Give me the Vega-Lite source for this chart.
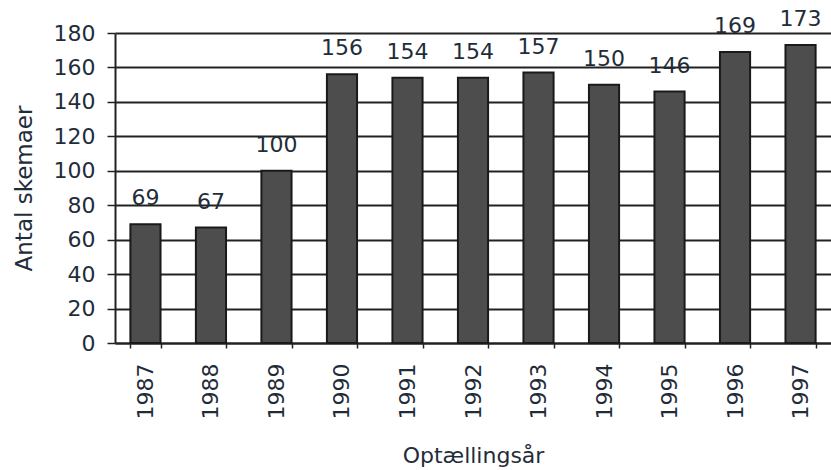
{
  "$schema": "https://vega.github.io/schema/vega-lite/v6.json",
  "autosize": {"type": "none"},
  "padding": {"left": 115, "top": 33, "right": 0, "bottom": 127},
  "width": 716,
  "height": 310,
  "background": "white",
  "config": {
    "view": {"stroke": null},
    "font": "DejaVu Sans"
  },
  "data": {
    "values": [
      {"year": "1987", "count": 69},
      {"year": "1988", "count": 67},
      {"year": "1989", "count": 100},
      {"year": "1990", "count": 156},
      {"year": "1991", "count": 154},
      {"year": "1992", "count": 154},
      {"year": "1993", "count": 157},
      {"year": "1994", "count": 150},
      {"year": "1995", "count": 146},
      {"year": "1996", "count": 169},
      {"year": "1997", "count": 173}
    ]
  },
  "encoding": {
    "x": {
      "field": "year",
      "type": "ordinal",
      "scale": {"paddingInner": 0.54, "paddingOuter": 0.235},
      "axis": {
        "title": "Optællingsår",
        "titleFont": "DejaVu Sans",
        "titleFontSize": 22,
        "titleFontWeight": "normal",
        "titleColor": "#1f2d3a",
        "titleY": 112,
        "titleBaseline": "middle",
        "labelAngle": -90,
        "labelAlign": "right",
        "labelBaseline": "middle",
        "labelFont": "DejaVu Sans",
        "labelFontSize": 22,
        "labelColor": "#1f2d3a",
        "labelPadding": 15,
        "tickBand": "extent",
        "tickSize": 5,
        "tickColor": "#222",
        "tickWidth": 1.5,
        "domainColor": "#222",
        "domainWidth": 2,
        "grid": false
      }
    },
    "y": {
      "field": "count",
      "type": "quantitative",
      "scale": {"domain": [0, 180], "nice": false},
      "axis": {
        "title": "Antal skemaer",
        "titleFont": "DejaVu Sans",
        "titleFontSize": 23,
        "titleFontWeight": "normal",
        "titleColor": "#1f2d3a",
        "titleX": -91,
        "titleBaseline": "middle",
        "values": [0, 20, 40, 60, 80, 100, 120, 140, 160, 180],
        "labelFont": "DejaVu Sans",
        "labelFontSize": 22,
        "labelColor": "#1f2d3a",
        "labelPadding": 12,
        "tickSize": 8,
        "tickColor": "#222",
        "tickWidth": 1.5,
        "domainColor": "#222",
        "domainWidth": 2,
        "grid": true,
        "gridColor": "#222",
        "gridWidth": 2
      }
    }
  },
  "layer": [
    {
      "mark": {"type": "bar", "color": "#4d4d4d", "stroke": "#1a1a1a", "strokeWidth": 2}
    },
    {
      "mark": {"type": "text", "baseline": "alphabetic", "dy": -19, "font": "DejaVu Sans", "fontSize": 22, "color": "#1f2d3a"},
      "encoding": {"text": {"field": "count", "type": "quantitative"}}
    }
  ]
}
